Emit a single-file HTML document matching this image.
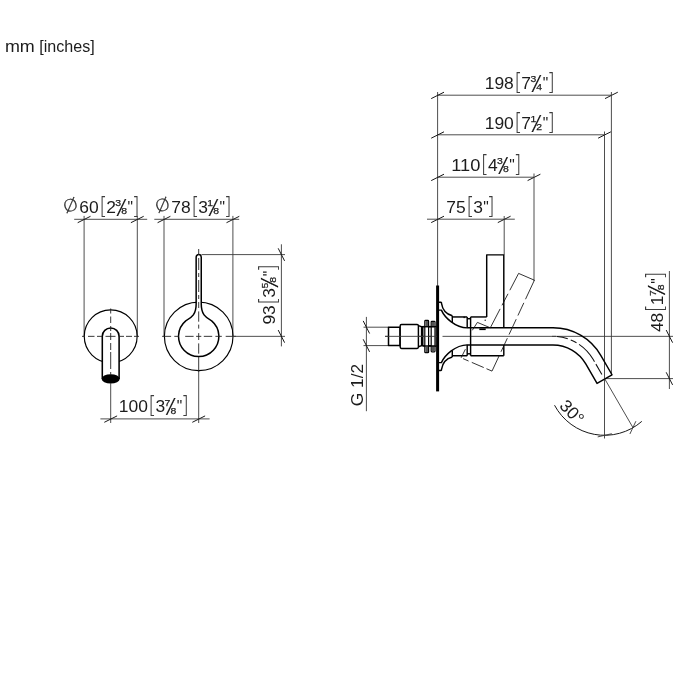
<!DOCTYPE html>
<html><head><meta charset="utf-8"><title>mm [inches]</title>
<style>
html,body{margin:0;padding:0;background:#fff;}
body{width:700px;height:700px;overflow:hidden;}
svg{display:block;}
text{font-family:"Liberation Sans",sans-serif;fill:#1c1c1c;}
.t{stroke:#3a3a3a;stroke-width:0.9;fill:none;}
.s{stroke:#1c1c1c;stroke-width:0.25px;}
.lt{font-family:"DejaVu Sans Light","DejaVu Sans",sans-serif;font-weight:200;fill:#2a2a2a;stroke:#2a2a2a;stroke-width:0.25px;}
.fs{fill:#111;stroke:#111;stroke-width:0.2px;}
.br{font-family:"DejaVu Sans Light","DejaVu Sans",sans-serif;font-weight:200;fill:#3c3c3c;}
.tk{stroke:#181818;stroke-width:1.0;fill:none;}
.b{stroke:#3a3a3a;stroke-width:1.0;fill:none;}
.m{stroke:#000;stroke-width:1.45;stroke-linejoin:round;}
.k{stroke:#000;stroke-width:3.0;}
.c{stroke:#222;stroke-width:0.9;stroke-dasharray:8 2.5 3 2.5;fill:none;}
.m2{stroke:#000;stroke-width:1.15;fill:none;}
.d{stroke:#111;stroke-width:0.85;stroke-dasharray:8 4;fill:none;}
.d2{stroke:#111;stroke-width:0.85;fill:none;}
</style></head>
<body>
<svg width="700" height="700" viewBox="0 0 700 700" style="will-change:transform">
<rect width="700" height="700" fill="#fff"/>
<text y="51.7" font-size="17.2"><tspan x="4.91" textLength="29.86" lengthAdjust="spacingAndGlyphs">mm</tspan> <tspan x="39.25" textLength="55.5" lengthAdjust="spacingAndGlyphs">[inches]</tspan></text>
<line x1="84.10" y1="215.90" x2="84.10" y2="336.35" class="t"/>
<line x1="137.30" y1="215.90" x2="137.30" y2="336.35" class="t"/>
<line x1="74.20" y1="219.30" x2="147.20" y2="219.30" class="t"/>
<line x1="77.70" y1="222.70" x2="90.50" y2="216.30" class="tk"/>
<line x1="130.90" y1="222.70" x2="143.70" y2="216.30" class="tk"/>
<g transform="translate(80.00 213.00) rotate(0)"><text x="-17.10" y="-1.90" font-size="16.6" textLength="15.15" lengthAdjust="spacingAndGlyphs" class="lt" transform="rotate(-21 -9.5 -7.95)">Ø</text><text x="-0.70" y="0.00" font-size="17.2" textLength="19.40" lengthAdjust="spacingAndGlyphs">60</text><text x="19.16" y="0.86" font-size="23.0" textLength="8.07" lengthAdjust="spacingAndGlyphs" class="br">[</text><text x="26.20" y="0.00" font-size="17.2" textLength="9.70" lengthAdjust="spacingAndGlyphs">2</text><text x="35.30" y="-6.60" font-size="9.8" textLength="5.80" lengthAdjust="spacingAndGlyphs" class="s">3</text><text x="40.50" y="2.90" font-size="24.0" textLength="3.20" lengthAdjust="spacingAndGlyphs" class="fs">⁄</text><text x="41.20" y="1.40" font-size="9.8" textLength="5.80" lengthAdjust="spacingAndGlyphs" class="s">8</text><text x="47.55" y="0.10" font-size="17.2" textLength="5.50" lengthAdjust="spacingAndGlyphs">"</text><text x="51.80" y="0.86" font-size="23.0" textLength="8.07" lengthAdjust="spacingAndGlyphs" class="br">]</text></g>
<circle cx="110.7" cy="336.35" r="26.45" class="m2" fill="none"/>
<path d="M102.3 379V336.35A8.4 8.4 0 0 1 119.10000000000001 336.35V379" class="m" style="stroke-width:1.55" fill="#fff"/>
<ellipse cx="110.7" cy="378.9" rx="9.0" ry="4.7" fill="#000"/>
<line x1="82.00" y1="336.35" x2="139.20" y2="336.35" class="c" style="stroke-dasharray:3 3 6.5 2.5 5 3.5 10 3 5.5 2 6 2 5"/>
<line x1="110.70" y1="308.50" x2="110.70" y2="375.00" class="c" style="stroke-dasharray:5 3 6.5 3 5 2 7 3 7 2 17 3 5"/>
<line x1="110.70" y1="383.00" x2="110.70" y2="423.00" class="t"/>
<line x1="164.00" y1="215.90" x2="164.00" y2="336.35" class="t"/>
<line x1="232.90" y1="215.90" x2="232.90" y2="336.35" class="t"/>
<line x1="154.30" y1="219.30" x2="239.20" y2="219.30" class="t"/>
<line x1="157.60" y1="222.70" x2="170.40" y2="216.30" class="tk"/>
<line x1="226.50" y1="222.70" x2="239.30" y2="216.30" class="tk"/>
<g transform="translate(172.00 212.90) rotate(0)"><text x="-17.10" y="-1.90" font-size="16.6" textLength="15.15" lengthAdjust="spacingAndGlyphs" class="lt" transform="rotate(-21 -9.5 -7.95)">Ø</text><text x="-0.70" y="0.00" font-size="17.2" textLength="19.40" lengthAdjust="spacingAndGlyphs">78</text><text x="19.16" y="0.86" font-size="23.0" textLength="8.07" lengthAdjust="spacingAndGlyphs" class="br">[</text><text x="26.20" y="0.00" font-size="17.2" textLength="9.70" lengthAdjust="spacingAndGlyphs">3</text><text x="35.30" y="-6.60" font-size="9.8" textLength="5.80" lengthAdjust="spacingAndGlyphs" class="s">1</text><text x="40.50" y="2.90" font-size="24.0" textLength="3.20" lengthAdjust="spacingAndGlyphs" class="fs">⁄</text><text x="41.20" y="1.40" font-size="9.8" textLength="5.80" lengthAdjust="spacingAndGlyphs" class="s">8</text><text x="47.55" y="0.10" font-size="17.2" textLength="5.50" lengthAdjust="spacingAndGlyphs">"</text><text x="51.80" y="0.86" font-size="23.0" textLength="8.07" lengthAdjust="spacingAndGlyphs" class="br">]</text></g>
<circle cx="198.7" cy="336.35" r="34.3" class="m2" fill="none"/>
<path d="M196.15 257.15A2.55 2.55 0 0 1 201.25 257.15V304 C201.25 314 205.25 317.5 211.65 320.91A20.15 20.15 0 1 1 185.75 320.91C192.15 317.5 196.15 314 196.15 304Z" class="m" style="stroke-width:1.5" fill="#fff"/>
<line x1="162.10" y1="336.35" x2="236.00" y2="336.35" class="c" style="stroke-dasharray:9 3.2 4.5 6.4 8.4 2.5 5.2 2.5 8.4 3.2 6.4 3.9 60"/>
<line x1="198.70" y1="249.00" x2="198.70" y2="372.00" class="c" style="stroke-dasharray:6 3 12 3 4 3 12 3 4 3 6 3.4 10.3 2.9 4 4.5 6.9 3.4 10.3 3.3 60"/>
<line x1="198.70" y1="371.00" x2="198.70" y2="423.00" class="t"/>
<line x1="201.50" y1="254.60" x2="285.00" y2="254.60" class="t"/>
<line x1="233.00" y1="336.35" x2="285.00" y2="336.35" class="t"/>
<line x1="281.40" y1="244.30" x2="281.40" y2="346.40" class="t"/>
<line x1="278.20" y1="248.30" x2="284.60" y2="260.90" class="tk"/>
<line x1="278.20" y1="330.05" x2="284.60" y2="342.65" class="tk"/>
<g transform="translate(274.80 323.90) rotate(-90)"><text x="-0.70" y="0.00" font-size="17.2" textLength="19.40" lengthAdjust="spacingAndGlyphs">93</text><text x="19.16" y="0.86" font-size="23.0" textLength="8.07" lengthAdjust="spacingAndGlyphs" class="br">[</text><text x="26.20" y="0.00" font-size="17.2" textLength="9.70" lengthAdjust="spacingAndGlyphs">3</text><text x="35.30" y="-6.60" font-size="9.8" textLength="5.80" lengthAdjust="spacingAndGlyphs" class="s">5</text><text x="40.50" y="2.90" font-size="24.0" textLength="3.20" lengthAdjust="spacingAndGlyphs" class="fs">⁄</text><text x="41.20" y="1.40" font-size="9.8" textLength="5.80" lengthAdjust="spacingAndGlyphs" class="s">8</text><text x="47.55" y="0.10" font-size="17.2" textLength="5.50" lengthAdjust="spacingAndGlyphs">"</text><text x="51.80" y="0.86" font-size="23.0" textLength="8.07" lengthAdjust="spacingAndGlyphs" class="br">]</text></g>
<line x1="100.40" y1="418.90" x2="209.60" y2="418.90" class="t"/>
<line x1="104.30" y1="422.30" x2="117.10" y2="415.90" class="tk"/>
<line x1="192.30" y1="422.30" x2="205.10" y2="415.90" class="tk"/>
<g transform="translate(119.50 412.30) rotate(0)"><text x="-0.70" y="0.00" font-size="17.2" textLength="29.10" lengthAdjust="spacingAndGlyphs">100</text><text x="28.86" y="0.86" font-size="23.0" textLength="8.07" lengthAdjust="spacingAndGlyphs" class="br">[</text><text x="35.90" y="0.00" font-size="17.2" textLength="9.70" lengthAdjust="spacingAndGlyphs">3</text><text x="45.00" y="-6.60" font-size="9.8" textLength="5.80" lengthAdjust="spacingAndGlyphs" class="s">7</text><text x="50.20" y="2.90" font-size="24.0" textLength="3.20" lengthAdjust="spacingAndGlyphs" class="fs">⁄</text><text x="50.90" y="1.40" font-size="9.8" textLength="5.80" lengthAdjust="spacingAndGlyphs" class="s">8</text><text x="57.25" y="0.10" font-size="17.2" textLength="5.50" lengthAdjust="spacingAndGlyphs">"</text><text x="61.50" y="0.86" font-size="23.0" textLength="8.07" lengthAdjust="spacingAndGlyphs" class="br">]</text></g>
<line x1="437.60" y1="92.00" x2="437.60" y2="286.00" class="t"/>
<line x1="437.60" y1="95.20" x2="611.40" y2="95.20" class="t"/>
<line x1="431.20" y1="98.60" x2="444.00" y2="92.20" class="tk"/>
<line x1="605.00" y1="98.60" x2="617.80" y2="92.20" class="tk"/>
<line x1="611.40" y1="92.00" x2="611.40" y2="374.60" class="t"/>
<g transform="translate(485.40 88.90) rotate(0)"><text x="-0.70" y="0.00" font-size="17.2" textLength="29.10" lengthAdjust="spacingAndGlyphs">198</text><text x="28.86" y="0.86" font-size="23.0" textLength="8.07" lengthAdjust="spacingAndGlyphs" class="br">[</text><text x="35.90" y="0.00" font-size="17.2" textLength="9.70" lengthAdjust="spacingAndGlyphs">7</text><text x="45.00" y="-6.60" font-size="9.8" textLength="5.80" lengthAdjust="spacingAndGlyphs" class="s">3</text><text x="50.20" y="2.90" font-size="24.0" textLength="3.20" lengthAdjust="spacingAndGlyphs" class="fs">⁄</text><text x="50.90" y="1.40" font-size="9.8" textLength="5.80" lengthAdjust="spacingAndGlyphs" class="s">4</text><text x="57.25" y="0.10" font-size="17.2" textLength="5.50" lengthAdjust="spacingAndGlyphs">"</text><text x="61.50" y="0.86" font-size="23.0" textLength="8.07" lengthAdjust="spacingAndGlyphs" class="br">]</text></g>
<line x1="437.60" y1="134.80" x2="604.50" y2="134.80" class="t"/>
<line x1="431.20" y1="138.20" x2="444.00" y2="131.80" class="tk"/>
<line x1="598.10" y1="138.20" x2="610.90" y2="131.80" class="tk"/>
<line x1="604.50" y1="131.50" x2="604.50" y2="438.50" class="t"/>
<g transform="translate(485.40 128.80) rotate(0)"><text x="-0.70" y="0.00" font-size="17.2" textLength="29.10" lengthAdjust="spacingAndGlyphs">190</text><text x="28.86" y="0.86" font-size="23.0" textLength="8.07" lengthAdjust="spacingAndGlyphs" class="br">[</text><text x="35.90" y="0.00" font-size="17.2" textLength="9.70" lengthAdjust="spacingAndGlyphs">7</text><text x="45.00" y="-6.60" font-size="9.8" textLength="5.80" lengthAdjust="spacingAndGlyphs" class="s">1</text><text x="50.20" y="2.90" font-size="24.0" textLength="3.20" lengthAdjust="spacingAndGlyphs" class="fs">⁄</text><text x="50.90" y="1.40" font-size="9.8" textLength="5.80" lengthAdjust="spacingAndGlyphs" class="s">2</text><text x="57.25" y="0.10" font-size="17.2" textLength="5.50" lengthAdjust="spacingAndGlyphs">"</text><text x="61.50" y="0.86" font-size="23.0" textLength="8.07" lengthAdjust="spacingAndGlyphs" class="br">]</text></g>
<line x1="437.60" y1="177.20" x2="534.00" y2="177.20" class="t"/>
<line x1="431.20" y1="180.60" x2="444.00" y2="174.20" class="tk"/>
<line x1="527.60" y1="180.60" x2="540.40" y2="174.20" class="tk"/>
<line x1="534.00" y1="173.50" x2="534.00" y2="281.00" class="t"/>
<g transform="translate(452.00 170.90) rotate(0)"><text x="-0.70" y="0.00" font-size="17.2" textLength="29.10" lengthAdjust="spacingAndGlyphs">110</text><text x="28.86" y="0.86" font-size="23.0" textLength="8.07" lengthAdjust="spacingAndGlyphs" class="br">[</text><text x="35.90" y="0.00" font-size="17.2" textLength="9.70" lengthAdjust="spacingAndGlyphs">4</text><text x="45.00" y="-6.60" font-size="9.8" textLength="5.80" lengthAdjust="spacingAndGlyphs" class="s">3</text><text x="50.20" y="2.90" font-size="24.0" textLength="3.20" lengthAdjust="spacingAndGlyphs" class="fs">⁄</text><text x="50.90" y="1.40" font-size="9.8" textLength="5.80" lengthAdjust="spacingAndGlyphs" class="s">8</text><text x="57.25" y="0.10" font-size="17.2" textLength="5.50" lengthAdjust="spacingAndGlyphs">"</text><text x="61.50" y="0.86" font-size="23.0" textLength="8.07" lengthAdjust="spacingAndGlyphs" class="br">]</text></g>
<line x1="427.00" y1="219.20" x2="514.80" y2="219.20" class="t"/>
<line x1="431.20" y1="222.60" x2="444.00" y2="216.20" class="tk"/>
<line x1="497.80" y1="222.60" x2="510.60" y2="216.20" class="tk"/>
<line x1="504.20" y1="216.00" x2="504.20" y2="254.80" class="t"/>
<g transform="translate(447.00 212.90) rotate(0)"><text x="-0.70" y="0.00" font-size="17.2" textLength="19.40" lengthAdjust="spacingAndGlyphs">75</text><text x="19.16" y="0.86" font-size="23.0" textLength="8.07" lengthAdjust="spacingAndGlyphs" class="br">[</text><text x="26.20" y="0.00" font-size="17.2" textLength="9.70" lengthAdjust="spacingAndGlyphs">3</text><text x="36.35" y="0.10" font-size="17.2" textLength="5.50" lengthAdjust="spacingAndGlyphs">"</text><text x="39.80" y="0.86" font-size="23.0" textLength="8.07" lengthAdjust="spacingAndGlyphs" class="br">]</text></g>
<line x1="552.00" y1="336.35" x2="673.00" y2="336.35" class="t"/>
<line x1="604.50" y1="378.60" x2="673.00" y2="378.60" class="t"/>
<line x1="669.40" y1="271.00" x2="669.40" y2="389.00" class="t"/>
<line x1="666.20" y1="330.05" x2="672.60" y2="342.65" class="tk"/>
<line x1="666.20" y1="372.30" x2="672.60" y2="384.90" class="tk"/>
<g transform="translate(662.50 331.40) rotate(-90)"><text x="-0.70" y="0.00" font-size="17.2" textLength="19.40" lengthAdjust="spacingAndGlyphs">48</text><text x="19.16" y="0.86" font-size="23.0" textLength="8.07" lengthAdjust="spacingAndGlyphs" class="br">[</text><text x="26.20" y="0.00" font-size="17.2" textLength="9.70" lengthAdjust="spacingAndGlyphs">1</text><text x="35.30" y="-6.60" font-size="9.8" textLength="5.80" lengthAdjust="spacingAndGlyphs" class="s">7</text><text x="40.50" y="2.90" font-size="24.0" textLength="3.20" lengthAdjust="spacingAndGlyphs" class="fs">⁄</text><text x="41.20" y="1.40" font-size="9.8" textLength="5.80" lengthAdjust="spacingAndGlyphs" class="s">8</text><text x="47.55" y="0.10" font-size="17.2" textLength="5.50" lengthAdjust="spacingAndGlyphs">"</text><text x="51.80" y="0.86" font-size="23.0" textLength="8.07" lengthAdjust="spacingAndGlyphs" class="br">]</text></g>
<line x1="363.50" y1="327.20" x2="388.50" y2="327.20" class="t"/>
<line x1="363.50" y1="345.60" x2="388.50" y2="345.60" class="t"/>
<line x1="366.40" y1="316.90" x2="366.40" y2="411.20" class="t"/>
<line x1="363.20" y1="320.90" x2="369.60" y2="333.50" class="tk"/>
<line x1="363.20" y1="339.30" x2="369.60" y2="351.90" class="tk"/>
<text transform="translate(363.0 406.2) rotate(-90)" font-size="17.2" textLength="42.4" lengthAdjust="spacingAndGlyphs">G 1/2</text>
<line x1="385.00" y1="336.35" x2="437.00" y2="336.35" class="t"/>
<line x1="442.50" y1="336.35" x2="556.00" y2="336.35" class="t"/>
<line x1="437.60" y1="285.50" x2="437.60" y2="391.40" class="k"/>
<rect x="388.5" y="327.3" width="11.5" height="18.3" class="m" style="stroke-width:1.5" fill="#fff"/>
<rect x="400.2" y="324.4" width="18.2" height="24" rx="1.3" class="m" fill="#fff"/>
<path d="M418.4 325.6L421.6 326.8V345.6L418.4 346.8" class="m" fill="none"/>
<line x1="422.60" y1="326.00" x2="422.60" y2="346.40" class="m" style="stroke-width:1.8"/>
<line x1="422.60" y1="326.60" x2="436.50" y2="326.60" class="m"/>
<line x1="422.60" y1="345.80" x2="436.50" y2="345.80" class="m"/>
<rect x="424.8" y="320.4" width="3.8" height="32.30" rx="0.8" class="m" fill="#fff" style="stroke-width:1.2"/>
<rect x="425.40000000000003" y="321.0" width="2.6" height="5.4" fill="#555"/>
<rect x="425.40000000000003" y="346.70" width="2.6" height="5.4" fill="#555"/>
<line x1="423.30" y1="326.70" x2="429.80" y2="326.70" class="m"/>
<line x1="423.30" y1="346.00" x2="429.80" y2="346.00" class="m"/>
<rect x="431.2" y="321.3" width="3.8" height="30.50" rx="0.8" class="m" fill="#fff" style="stroke-width:1.2"/>
<rect x="431.8" y="321.90000000000003" width="2.6" height="5.4" fill="#555"/>
<rect x="431.8" y="345.80" width="2.6" height="5.4" fill="#555"/>
<line x1="429.70" y1="326.70" x2="436.20" y2="326.70" class="m"/>
<line x1="429.70" y1="346.00" x2="436.20" y2="346.00" class="m"/>
<line x1="435.50" y1="327.00" x2="435.50" y2="345.60" class="t"/>
<line x1="385.00" y1="336.35" x2="437.00" y2="336.35" class="t"/>
<path d="M439 370.50H440.9Q441.6 370.50 441.5 369.40C442.5 363.00 446.5 358.50 452.3 357.00" class="m" fill="none"/>
<path d="M439 362.60H441.4C444.5 355.50 455 345.00 467.4 344.85" class="m" fill="none"/>
<line x1="452.30" y1="350.70" x2="452.30" y2="357.00" class="m"/>
<line x1="452.30" y1="355.75" x2="467.20" y2="355.75" class="m"/>
<line x1="467.20" y1="344.85" x2="467.20" y2="355.75" class="m"/>
<path d="M439 302.20H440.9Q441.6 302.20 441.5 303.30C442.5 309.70 446.5 314.20 452.3 315.70" class="m" fill="none"/>
<path d="M439 310.10H441.4C444.5 317.20 455 327.70 467.4 327.85" class="m" fill="none"/>
<line x1="452.30" y1="322.00" x2="452.30" y2="315.70" class="m"/>
<line x1="452.30" y1="316.95" x2="467.20" y2="316.95" class="m"/>
<line x1="467.20" y1="327.85" x2="467.20" y2="316.95" class="m"/>
<line x1="467.20" y1="318.70" x2="470.60" y2="318.70" class="m"/>
<line x1="467.20" y1="353.80" x2="470.60" y2="353.80" class="m"/>
<line x1="470.60" y1="355.75" x2="503.80" y2="355.75" class="m"/>
<line x1="470.60" y1="316.95" x2="486.70" y2="316.95" class="m"/>
<path d="M470.6 316.95V355.75" class="m" fill="none"/>
<path d="M486.7 316.95V254.85H503.8V327.70M503.8 345.00V355.75" class="m" fill="none"/>
<path d="M467.2 327.70H553.0A55.15 55.15 0 0 1 600.76 355.28L612.01 374.76L597.03 383.41L585.78 363.93A37.85 37.85 0 0 0 553.0 345.00H467.2" class="m" fill="none"/>
<path d="M557.0 336.55A46.5 46.5 0 0 1 593.27 359.60L604.52 379.09" class="c" style="stroke:#111;stroke-width:1.05;stroke-dasharray:11 3.2 6.4 3 23.4 2.8 12" fill="none"/>
<rect x="479.3" y="328.4" width="6.4" height="1.7" fill="#000"/>
<path d="M518.6 273.4L490.3 327.8" class="d2" stroke-dasharray="19 4 13 4 30" fill="none"/>
<path d="M518.6 273.4L534.4 280.2" class="d2" fill="none"/>
<path d="M534.4 280.2L492 371.1" class="d2" stroke-dasharray="21 4 14 4 17 4 15 4" fill="none"/>
<path d="M492 371.1L461.1 357.8" class="d2" stroke-dasharray="6 3 13 3.5" fill="none"/>
<path d="M461.1 357.8L465.4 349.2" class="d2" fill="none"/>
<circle cx="485.2" cy="320.3" r="0.7" fill="#111"/>
<rect x="463.4" y="316.6" width="1.8" height="1.5" fill="#111"/>
<path d="M472.3 330.3L477.4 322.4L490.3 327.8" class="d2" fill="none"/>
<line x1="604.60" y1="378.60" x2="633.20" y2="428.00" class="t"/>
<path d="M554.54 405.22A56.7 56.7 0 0 0 641.80 421.39" class="tk" fill="none"/>
<line x1="597.70" y1="436.90" x2="611.80" y2="433.70" class="t"/>
<line x1="629.90" y1="434.00" x2="635.90" y2="421.20" class="t"/>
<text transform="translate(558.4 406.4) rotate(46)" font-size="17.2" textLength="26.6" lengthAdjust="spacingAndGlyphs">30°</text>
</svg>
</body></html>
